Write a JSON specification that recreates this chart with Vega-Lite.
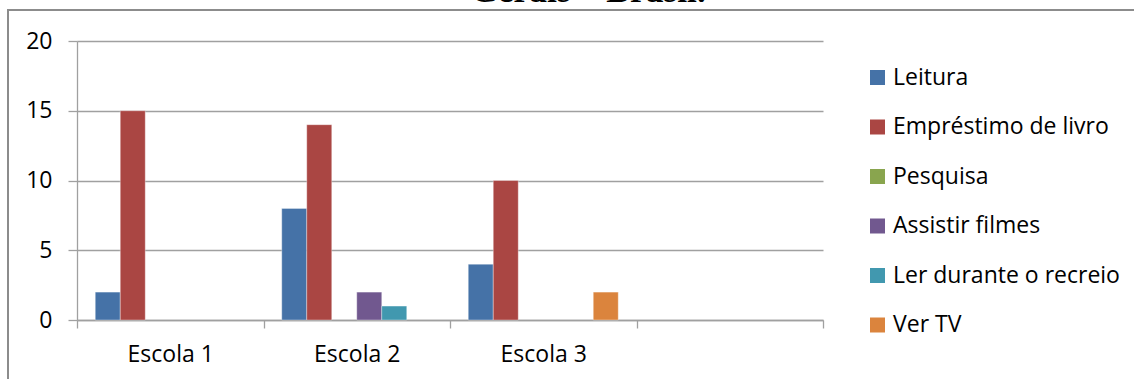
{
  "$schema": "https://vega.github.io/schema/vega-lite/v6.json",
  "width": 1140,
  "height": 380,
  "autosize": {"type": "none"},
  "padding": {"left": 8, "top": 10, "right": 0, "bottom": 0},
  "title": {
    "text": "Gerais – Brasil.",
    "font": "Liberation Serif",
    "fontSize": 35.5,
    "fontWeight": "bold",
    "color": "#000000",
    "anchor": "middle",
    "frame": "group",
    "baseline": "alphabetic",
    "offset": 4,
    "dx": 10,
    "dy": 31
  },
  "data": {
    "values": [
      {"escola": "Escola 1", "atividade": "Leitura", "total": 2},
      {"escola": "Escola 1", "atividade": "Empréstimo de livro", "total": 15},
      {"escola": "Escola 2", "atividade": "Leitura", "total": 8},
      {"escola": "Escola 2", "atividade": "Empréstimo de livro", "total": 14},
      {"escola": "Escola 2", "atividade": "Assistir filmes", "total": 2},
      {"escola": "Escola 2", "atividade": "Ler durante o recreio", "total": 1},
      {"escola": "Escola 3", "atividade": "Leitura", "total": 4},
      {"escola": "Escola 3", "atividade": "Empréstimo de livro", "total": 10},
      {"escola": "Escola 3", "atividade": "Ver TV", "total": 2}
    ]
  },
  "mark": {"type": "bar", "stroke": "#ffffff", "strokeOpacity": 0.35, "strokeWidth": 1},
  "encoding": {
    "x": {
      "field": "escola",
      "type": "nominal",
      "scale": {
        "domain": ["Escola 1", "Escola 2", "Escola 3", " "],
        "range": [69, 815],
        "paddingInner": 0,
        "paddingOuter": 0
      },
      "axis": {
        "orient": "bottom",
        "offset": -70,
        "title": null,
        "labelAngle": 0,
        "tickBand": "extent",
        "tickSize": 8,
        "labelPadding": 15,
        "grid": false
      }
    },
    "xOffset": {
      "field": "atividade",
      "type": "nominal",
      "scale": {
        "domain": ["Leitura", "Empréstimo de livro", "Pesquisa", "Assistir filmes", "Ler durante o recreio", "Ver TV"],
        "paddingInner": 0,
        "paddingOuter": 0.73
      }
    },
    "y": {
      "field": "total",
      "type": "quantitative",
      "scale": {"domain": [0, 20], "range": [310, 31], "nice": false},
      "axis": {
        "orient": "left",
        "offset": -69,
        "title": null,
        "values": [0, 5, 10, 15, 20],
        "tickSize": 9,
        "labelPadding": 16,
        "grid": true
      }
    },
    "color": {
      "field": "atividade",
      "type": "nominal",
      "scale": {
        "domain": ["Leitura", "Empréstimo de livro", "Pesquisa", "Assistir filmes", "Ler durante o recreio", "Ver TV"],
        "range": ["#4572A7", "#AA4643", "#89A54E", "#71588F", "#4198AF", "#DB843D"]
      },
      "legend": {
        "orient": "none",
        "legendX": 858,
        "legendY": 56,
        "title": null,
        "symbolType": "square",
        "symbolSize": 225,
        "symbolStrokeWidth": 0,
        "labelOffset": 4,
        "rowPadding": 25.5,
        "labelFontSize": 23,
        "labelFont": "Open Sans",
        "labelColor": "#000000",
        "labelLimit": 400
      }
    }
  },
  "config": {
    "view": {"stroke": "#8c8c8c", "strokeWidth": 2, "fill": null},
    "axis": {
      "domainColor": "#a0a0a0",
      "domainWidth": 1.3,
      "tickColor": "#a0a0a0",
      "tickWidth": 1.3,
      "gridColor": "#a0a0a0",
      "gridWidth": 1.3,
      "labelFont": "Open Sans",
      "labelFontSize": 23,
      "labelColor": "#000000"
    }
  }
}
